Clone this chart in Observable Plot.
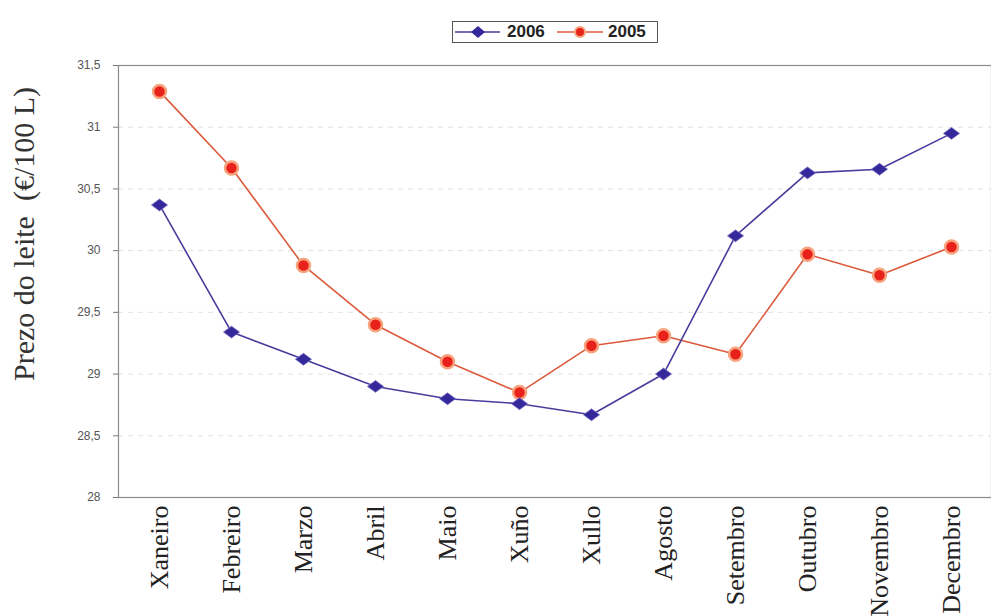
<!DOCTYPE html>
<html>
<head>
<meta charset="utf-8">
<script src="https://cdn.jsdelivr.net/npm/d3@7"></script>
<script src="https://cdn.jsdelivr.net/npm/@observablehq/plot@0.6"></script>
<style>
  html, body { margin: 0; padding: 0; background: #fff; }
  #wrap { position: relative; width: 991px; height: 616px; overflow: hidden; }
  #ytitle {
    position: absolute; left: 24px; top: 234px;
    transform: translate(-50%, -50%) rotate(-90deg);
    font-family: "Liberation Serif", "Times New Roman", serif;
    font-size: 30px; color: #333; white-space: pre;
  }
  #legend {
    position: absolute; left: 452px; top: 21px; width: 204px; height: 20px;
    border: 1.5px solid #555; background: #fff;
    font-family: "Liberation Sans", Arial, sans-serif; font-weight: bold; font-size: 17px; color: #222;
  }
  #legend svg { position: absolute; left: 0; top: 0; }
  #legend span { position: absolute; top: -1px; line-height: 22px; }
</style>
</head>
<body>
<div id="wrap">
  <div id="chart"></div>
  <div id="ytitle">Prezo do leite  (€/100 L)</div>
  <div id="legend"></div>
</div>
<script>
const months = ["Xaneiro","Febreiro","Marzo","Abril","Maio","Xuño","Xullo","Agosto","Setembro","Outubro","Novembro","Decembro"];
const values2006 = [30.37, 29.34, 29.12, 28.90, 28.80, 28.76, 28.67, 29.00, 30.12, 30.63, 30.66, 30.95];
const values2005 = [31.29, 30.67, 29.88, 29.40, 29.10, 28.85, 29.23, 29.31, 29.16, 29.97, 29.80, 30.03];
const seriesNames = ["2006", "2005"];
const yTicks = [28, 28.5, 29, 29.5, 30, 30.5, 31, 31.5];

const c2006 = { line: "#4a3c9c", mark: "#34289a" };
const c2005 = { line: "#dc5a3c", mark: "#e8221a", halo: "#f6a37e" };

const rows2006 = months.map((m, i) => ({ month: m, value: values2006[i] }));
const rows2005 = months.map((m, i) => ({ month: m, value: values2005[i] }));

const fmt = d => String(d).replace(".", ",");

// wide rhombus marker, like the original's squashed diamond
const wideDiamond = {
  draw(context, size) {
    const r = Math.sqrt(size / Math.PI);
    context.moveTo(0, -0.85 * r);
    context.lineTo(1.15 * r, 0);
    context.lineTo(0, 0.85 * r);
    context.lineTo(-1.15 * r, 0);
    context.closePath();
  }
};

const chart = Plot.plot({
  width: 991,
  height: 616,
  marginTop: 65,
  marginBottom: 119,
  marginLeft: 118,
  marginRight: 0,
  style: { background: "#fff", overflow: "visible" },
  x: { type: "point", domain: months, padding: 0.5 },
  y: { domain: [yTicks[0], yTicks[yTicks.length - 1]] },
  marks: [
    Plot.gridY(yTicks.slice(1, -1), { stroke: "#c8c8c8", strokeOpacity: 0.55, strokeDasharray: "5,5" }),
    Plot.frame({ stroke: "#8a8a8a", strokeWidth: 1.2 }),
    Plot.axisY(yTicks, {
      tickSize: 5, tickPadding: 13, tickFormat: fmt, label: null,
      fontSize: 12, fontFamily: "Liberation Sans, Arial, sans-serif", color: "#555", stroke: "#777"
    }),
    Plot.axisX({
      tickSize: 0, tickPadding: 8, tickRotate: -90, label: null,
      fontSize: 26, fontFamily: "Liberation Serif, Times New Roman, serif", color: "#222"
    }),
    Plot.line(rows2005, { x: "month", y: "value", stroke: c2005.line, strokeWidth: 1.6 }),
    Plot.line(rows2006, { x: "month", y: "value", stroke: c2006.line, strokeWidth: 1.6 }),
    Plot.dot(rows2005, { x: "month", y: "value", r: 6.5, fill: c2005.mark, stroke: c2005.halo, strokeWidth: 2.5 }),
    Plot.dot(rows2006, { x: "month", y: "value", r: 7, symbol: wideDiamond, fill: c2006.mark, stroke: "#7a70c4", strokeWidth: 0.8 })
  ]
});
document.getElementById("chart").appendChild(chart);

// legend
const leg = document.getElementById("legend");
leg.innerHTML = `
<svg width="204" height="20">
  <line x1="2" x2="47" y1="10" y2="10" stroke="${c2006.line}" stroke-width="1.6"/>
  <path d="M25,4 L32,10 L25,16 L18,10 Z" fill="${c2006.mark}"/>
  <line x1="104" x2="150" y1="10" y2="10" stroke="${c2005.line}" stroke-width="1.6"/>
  <circle cx="127" cy="10" r="5" fill="${c2005.mark}" stroke="${c2005.halo}" stroke-width="2"/>
</svg>
<span style="left:54px">${seriesNames[0]}</span>
<span style="left:155px">${seriesNames[1]}</span>`;
</script>
</body>
</html>
